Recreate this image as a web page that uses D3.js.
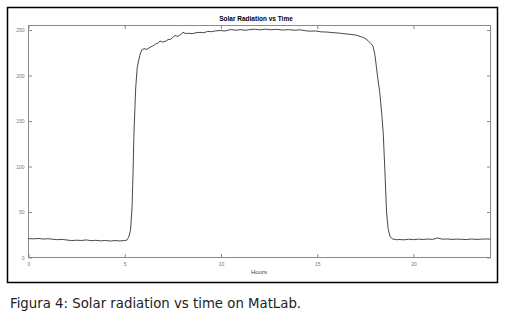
<!DOCTYPE html>
<html>
<head>
<meta charset="utf-8">
<script src="https://cdn.jsdelivr.net/npm/d3@7"></script>
<style>
  body { margin: 0; background: #fff; }
  .axis path { display: none; }
  .axis line { stroke: #8a8a8a; }
  .axis text { fill: #777; font-family: "Liberation Sans", Arial, sans-serif; font-size: 5px; }
</style>
</head>
<body>
<div id="chart"></div>
<script>
// readings taken off the MatLab plot (hours, W/m2-ish)
var hours = [0, 0.25, 0.5, 0.75, 1, 1.25, 1.5, 1.75, 2, 2.25, 2.5, 2.75, 3, 3.25, 3.5, 3.75,
  4, 4.25, 4.5, 4.75, 5, 5.1, 5.2, 5.3, 5.38, 5.43, 5.47, 5.52, 5.57, 5.65, 5.78, 5.88,
  6, 6.15, 6.31, 6.45, 6.6, 6.75, 6.83, 6.95, 7.1, 7.25, 7.4, 7.5, 7.61, 7.75, 7.9, 8.03,
  8.15, 8.3, 8.5, 8.7, 8.91, 9.1, 9.3, 9.5, 9.7, 9.95, 10.2, 10.5, 10.8, 11, 11.3, 11.5,
  11.8, 12, 12.3, 12.6, 12.9, 13.2, 13.5, 13.8, 14.1, 14.4, 14.6, 14.9, 15.2, 15.5, 15.8,
  16.2, 16.6, 17, 17.3, 17.48, 17.65, 17.8, 17.9, 18, 18.07, 18.15, 18.25, 18.35, 18.43,
  18.52, 18.6, 18.68, 18.78, 18.9, 19.12, 19.25, 19.5, 19.75, 20, 20.25, 20.5, 20.75, 21,
  21.25, 21.5, 21.75, 22, 22.25, 22.5, 22.75, 23, 23.25, 23.5, 23.75, 24];

var radiation = [20.8, 20.5, 20.9, 20.3, 20.6, 20.1, 19.6, 19.9, 19.2, 18.6, 19.0, 18.7, 19.3, 18.5, 18.9, 18.3,
  18.8, 18.1, 18.6, 18.2, 18.7, 19.0, 22, 30, 55, 92, 130, 160, 187, 209, 222, 228,
  229.5, 228.8, 231, 232.5, 234.5, 236, 238, 236.8, 237.5, 239.5, 240, 242, 244, 243, 245, 247.5,
  246.2, 246.5, 246, 247, 247.5, 247, 248.5, 248.2, 249, 249.5, 249, 250.5, 249.8, 250.4, 249.7, 250.6,
  250.9, 250.2, 251, 250.3, 250.8, 250, 250.5, 249.8, 250.2, 249.2, 248.8, 249, 248, 247.8, 247.2,
  246.5, 245.5, 244.5, 242.5, 241, 238, 235, 232, 222, 210, 196, 181, 158, 136,
  92, 50, 32, 23, 20.5, 19.5, 19.8, 19.4, 20.1, 19.6, 20.2, 19.8, 20.3, 19.9,
  21.5, 20.1, 20.4, 19.9, 20.2, 20.0, 19.7, 20.3, 19.9, 20.1, 20.4, 20.2];

var xTicks = [0, 5, 10, 15, 20];
var yTicks = [0, 50, 100, 150, 200, 250];

var titleText = "Solar Radiation vs Time";
var xLabel = "Hours";
var caption = "Figura 4: Solar radiation vs time on MatLab.";

var svg = d3.select("#chart").append("svg")
    .attr("width", 505)
    .attr("height", 315);

// outer frame round the figure
svg.append("rect")
    .attr("x", 7.5).attr("y", 7.5)
    .attr("width", 490).attr("height", 275)
    .attr("fill", "#fff")
    .attr("stroke", "#000")
    .attr("stroke-width", 1.5);

var margin = {left: 28.5, top: 25.5, right: 490.5, bottom: 257.5};

var x = d3.scaleLinear().domain([0, 24]).range([margin.left, margin.right]);
var y = d3.scaleLinear().domain([0, 255]).range([margin.bottom, margin.top]);

svg.append("g")
    .attr("class", "axis")
    .attr("transform", "translate(0," + margin.bottom + ")")
    .call(d3.axisBottom(x).tickValues(xTicks).tickSizeInner(-3.5).tickSizeOuter(0).tickPadding(5));

svg.append("g")
    .attr("class", "axis")
    .attr("transform", "translate(0," + margin.top + ")")
    .call(d3.axisTop(x).tickValues(xTicks).tickSizeInner(-3.5).tickSizeOuter(0).tickFormat(""));

svg.append("g")
    .attr("class", "axis")
    .attr("transform", "translate(" + margin.left + ",0)")
    .call(d3.axisLeft(y).tickValues(yTicks).tickSizeInner(-3.5).tickSizeOuter(0).tickPadding(4));

svg.append("g")
    .attr("class", "axis")
    .attr("transform", "translate(" + margin.right + ",0)")
    .call(d3.axisRight(y).tickValues(yTicks).tickSizeInner(-3.5).tickSizeOuter(0).tickFormat(""));

// axes box
svg.append("rect")
    .attr("x", margin.left).attr("y", margin.top)
    .attr("width", margin.right - margin.left)
    .attr("height", margin.bottom - margin.top)
    .attr("fill", "none")
    .attr("stroke", "#8a8a8a")
    .attr("stroke-width", 1);

var line = d3.line()
    .x(function(d, i) { return x(hours[i]); })
    .y(function(d) { return y(d); });

svg.append("path")
    .datum(radiation)
    .attr("d", line)
    .attr("fill", "none")
    .attr("stroke", "#333")
    .attr("stroke-width", 0.9);

svg.append("text")
    .attr("x", 256).attr("y", 21)
    .attr("text-anchor", "middle")
    .style("font-family", "'Liberation Sans', Arial, sans-serif")
    .style("font-size", "6.5px")
    .style("font-weight", "bold")
    .text(titleText);

svg.append("text")
    .attr("x", 259).attr("y", 274)
    .attr("text-anchor", "middle")
    .style("font-family", "'Liberation Sans', Arial, sans-serif")
    .style("font-size", "6px")
    .style("fill", "#444")
    .text(xLabel);

svg.append("text")
    .attr("x", 10).attr("y", 308)
    .style("font-family", "'DejaVu Sans', sans-serif")
    .style("font-size", "13.3px")
    .style("fill", "#222")
    .text(caption);
</script>
</body>
</html>
